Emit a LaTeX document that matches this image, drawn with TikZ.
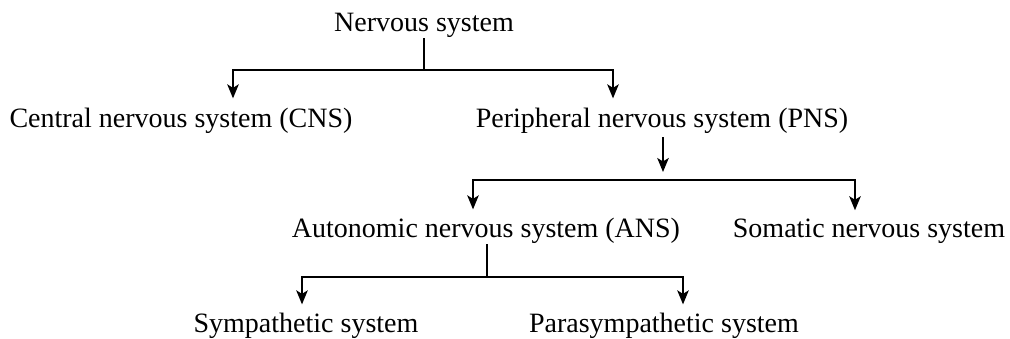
\documentclass[tikz,border=0pt]{standalone}
\usepackage{fontspec}
\setmainfont{Liberation Serif}
\usetikzlibrary{arrows.meta}
\begin{document}
\begin{tikzpicture}[x=1pt,y=-1pt,
  every node/.style={font=\fontsize{28}{34}\selectfont, inner sep=0pt, anchor=base},
  link/.style={line width=1.9pt},
  arr/.style={link, -{Stealth[length=14pt,width=11.5pt,inset=3.5pt]}}]
\useasboundingbox (0,0) rectangle (1010,339);
% nodes
\node (ns)   at (424,32)  {Nervous system};
\node (cns)  at (181,128) {Central nervous system (CNS)};
\node (pns)  at (662,128) {Peripheral nervous system (PNS)};
\node (ans)  at (486,238) {Autonomic nervous system (ANS)};
\node (sns)  at (869,238) {Somatic nervous system};
\node (sym)  at (306,332) {Sympathetic system};
\node (para) at (664,332) {Parasympathetic system};
% junction coordinates
\coordinate (b1l) at (233,70);
\coordinate (b1r) at (613,70);
\coordinate (j2)  at (663,180);
\coordinate (b2l) at (473,180);
\coordinate (b2r) at (855,180);
\coordinate (b3l) at (302,277);
\coordinate (b3r) at (683,277);
% first bracket
\draw[link] (ns.south) -- (ns.south |- b1l);
\draw[link, line cap=rect] (b1l) -- (b1r);
\draw[arr] (b1l) -- ([yshift=10pt]b1l |- cns.north);
\draw[arr] (b1r) -- ([yshift=10pt]b1r |- pns.north);
% PNS arrow and second bracket
\draw[arr] ([yshift=-3pt]j2 |- pns.south) -- ([yshift=8pt]j2);
\draw[link, line cap=rect] (b2l) -- (b2r);
\draw[arr] (b2l) -- ([yshift=9pt]b2l |- ans.north);
\draw[arr] (b2r) -- ([yshift=9pt]b2r |- sns.north);
% third bracket
\draw[link] ([xshift=1pt]ans.south) -- ([xshift=1pt]ans.south |- b3l);
\draw[link, line cap=rect] (b3l) -- (b3r);
\draw[arr] (b3l) -- ([yshift=8pt]b3l |- sym.north);
\draw[arr] (b3r) -- ([yshift=8pt]b3r |- para.north);
\end{tikzpicture}
\end{document}
